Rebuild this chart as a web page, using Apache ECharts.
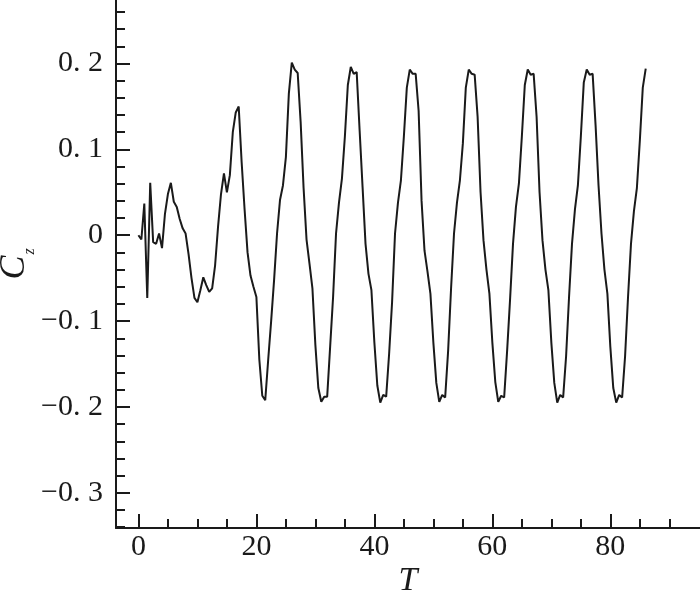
<!DOCTYPE html>
<html>
<head>
<meta charset="utf-8">
<script src="https://cdn.jsdelivr.net/npm/echarts@6/dist/echarts.min.js"></script>
<style>
  html, body { margin: 0; padding: 0; background: #fff; }
  #chart { width: 700px; height: 604px; }
</style>
</head>
<body>
<div id="chart"></div>
<script>
// time samples T and lift coefficient Cz
var tValues = [
  0, 0.5, 1, 1.5, 2, 2.5, 3, 3.5, 4, 4.5, 5, 5.5, 6, 6.5, 7, 7.5, 8, 8.5, 9, 9.5,
  10, 10.5, 11, 11.5, 12, 12.5, 13, 13.5, 14, 14.5, 15, 15.5, 16, 16.5, 17, 17.5, 18, 18.5, 19, 19.5,
  20, 20.5, 21, 21.5, 22, 22.5, 23, 23.5, 24, 24.5, 25, 25.5, 26, 26.5, 27, 27.5, 28, 28.5, 29, 29.5,
  30, 30.5, 31, 31.5, 32, 32.5, 33, 33.5, 34, 34.5, 35, 35.5, 36, 36.5, 37, 37.5, 38, 38.5, 39, 39.5,
  40, 40.5, 41, 41.5, 42, 42.5, 43, 43.5, 44, 44.5, 45, 45.5, 46, 46.5, 47, 47.5, 48, 48.5, 49, 49.5,
  50, 50.5, 51, 51.5, 52, 52.5, 53, 53.5, 54, 54.5, 55, 55.5, 56, 56.5, 57, 57.5, 58, 58.5, 59, 59.5,
  60, 60.5, 61, 61.5, 62, 62.5, 63, 63.5, 64, 64.5, 65, 65.5, 66, 66.5, 67, 67.5, 68, 68.5, 69, 69.5,
  70, 70.5, 71, 71.5, 72, 72.5, 73, 73.5, 74, 74.5, 75, 75.5, 76, 76.5, 77, 77.5, 78, 78.5, 79, 79.5,
  80, 80.5, 81, 81.5, 82, 82.5, 83, 83.5, 84, 84.5, 85, 85.5, 86
];
var czValues = [
  0, -0.005, 0.037, -0.073, 0.061, -0.008, -0.010, 0.002, -0.015, 0.025, 0.048, 0.061, 0.039, 0.033, 0.019, 0.008, 0.002, -0.022, -0.050, -0.073,
  -0.078, -0.064, -0.049, -0.058, -0.066, -0.062, -0.035, 0.010, 0.048, 0.072, 0.050, 0.070, 0.120, 0.143, 0.150, 0.085, 0.030, -0.020, -0.047, -0.060,
  -0.072, -0.145, -0.187, -0.192, -0.145, -0.100, -0.052, 0.002, 0.041, 0.058, 0.091, 0.165, 0.201, 0.193, 0.189, 0.132, 0.055, -0.005, -0.033, -0.062,
  -0.128, -0.178, -0.194, -0.188, -0.188, -0.130, -0.072, 0.002, 0.038, 0.066, 0.115, 0.175, 0.196, 0.188, 0.190, 0.122, 0.056, -0.010, -0.045, -0.064,
  -0.125, -0.175, -0.195, -0.186, -0.188, -0.138, -0.078, 0.002, 0.038, 0.064, 0.115, 0.172, 0.193, 0.188, 0.188, 0.145, 0.040, -0.018, -0.042, -0.068,
  -0.125, -0.172, -0.194, -0.186, -0.189, -0.135, -0.062, 0.002, 0.038, 0.064, 0.107, 0.172, 0.193, 0.188, 0.187, 0.138, 0.050, -0.006, -0.040, -0.068,
  -0.125, -0.171, -0.194, -0.187, -0.189, -0.135, -0.075, -0.010, 0.033, 0.060, 0.115, 0.175, 0.193, 0.187, 0.188, 0.138, 0.050, -0.006, -0.040, -0.064,
  -0.125, -0.172, -0.195, -0.186, -0.189, -0.141, -0.072, -0.010, 0.030, 0.058, 0.115, 0.178, 0.193, 0.187, 0.188, 0.128, 0.058, 0.002, -0.040, -0.068,
  -0.130, -0.178, -0.195, -0.186, -0.189, -0.141, -0.072, -0.010, 0.028, 0.055, 0.110, 0.172, 0.194
];

// tick positions
var xMajorTicks = [0, 20, 40, 60, 80];
var xMinorTicks = [5, 10, 15, 25, 30, 35, 45, 50, 55, 65, 70, 75, 85, 90];
var yMajorTicks = [-0.3, -0.2, -0.1, 0, 0.1, 0.2];
var yMinorTicks = [-0.34, -0.32, -0.28, -0.26, -0.24, -0.22, -0.18, -0.16, -0.14, -0.12,
  -0.08, -0.06, -0.04, -0.02, 0.02, 0.04, 0.06, 0.08, 0.12, 0.14, 0.16, 0.18, 0.22, 0.24, 0.26];
var yTickLabels = ['\u22120. 3', '\u22120. 2', '\u22120. 1', '0', '0. 1', '0. 2'];

var seriesData = tValues.map(function (t, i) { return [t, czValues[i]]; });

var serif = '"Liberation Serif", "DejaVu Serif", serif';
var ink = '#1a1a1a';
var X_MIN = -3.8, X_MAX = 95.2, Y_MIN = -0.341, Y_MAX = 0.274;

function yLabel(v) {
  var idx = -1;
  yMajorTicks.forEach(function (m, i) { if (Math.abs(m - v) < 1e-6) idx = i; });
  return idx >= 0 ? yTickLabels[idx] : '';
}

var chart = echarts.init(document.getElementById('chart'));
chart.setOption({
  animation: false,
  backgroundColor: '#fff',
  grid: { left: 116, right: 0, top: 0, bottom: 76, outerBoundsMode: 'none' },
  xAxis: [{
    type: 'value', min: X_MIN, max: X_MAX,
    name: 'T', nameLocation: 'middle', nameGap: 36, nameMoveOverlap: false,
    nameTextStyle: { fontFamily: serif, fontStyle: 'italic', fontSize: 34, color: ink },
    axisLine: { show: true, onZero: false, lineStyle: { color: ink, width: 2 } },
    axisTick: { show: true, inside: true, length: 14, lineStyle: { color: ink, width: 2 }, customValues: xMajorTicks },
    axisLabel: { show: true, margin: 4, fontFamily: serif, fontSize: 30, color: ink, customValues: xMajorTicks },
    splitLine: { show: false }
  }, {
    // minor ticks only
    type: 'value', min: X_MIN, max: X_MAX, position: 'bottom',
    axisLine: { show: false, onZero: false },
    axisTick: { show: true, inside: true, length: 9, lineStyle: { color: ink, width: 2 }, customValues: xMinorTicks },
    axisLabel: { show: false },
    splitLine: { show: false }
  }],
  yAxis: [{
    type: 'value', min: Y_MIN, max: Y_MAX,
    name: '{c|C}{z|z}', nameLocation: 'middle', nameGap: 78, nameMoveOverlap: false,
    nameTextStyle: {
      rich: {
        c: { fontFamily: serif, fontStyle: 'italic', fontSize: 36, color: ink },
        z: { fontFamily: serif, fontStyle: 'italic', fontSize: 16, color: ink, padding: [30, 0, 0, 1] }
      }
    },
    axisLine: { show: true, onZero: false, lineStyle: { color: ink, width: 2 } },
    axisTick: { show: true, inside: true, length: 14, lineStyle: { color: ink, width: 2 }, customValues: yMajorTicks },
    axisLabel: { show: true, margin: 13, fontFamily: serif, fontSize: 30, color: ink, customValues: yMajorTicks, formatter: yLabel },
    splitLine: { show: false }
  }, {
    // minor ticks only
    type: 'value', min: Y_MIN, max: Y_MAX, position: 'left',
    axisLine: { show: false, onZero: false },
    axisTick: { show: true, inside: true, length: 9, lineStyle: { color: ink, width: 2 }, customValues: yMinorTicks },
    axisLabel: { show: false },
    splitLine: { show: false }
  }],
  series: [{
    type: 'line',
    xAxisIndex: 0,
    yAxisIndex: 0,
    data: seriesData,
    showSymbol: false,
    smooth: false,
    lineStyle: { color: ink, width: 2 }
  }]
});
</script>
</body>
</html>
